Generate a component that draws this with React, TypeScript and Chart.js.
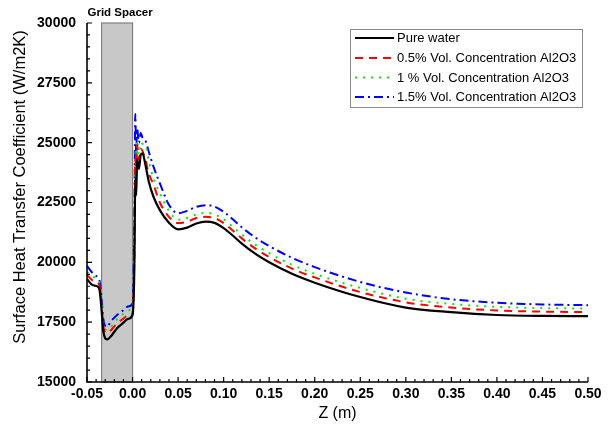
import React, { useEffect, useRef } from "react";
import { Chart, registerables } from "chart.js";

Chart.register(...registerables);

// ---------- data ----------
const seriesNames = [
  "Pure water",
  "0.5% Vol. Concentration Al2O3",
  "1 % Vol. Concentration Al2O3",
  "1.5% Vol. Concentration Al2O3",
];

const zPoints = [
  -0.05, -0.044, -0.038, -0.036, -0.034, -0.032, -0.028, -0.024, -0.017, -0.01, -0.005, 0.0,
  0.002, 0.003, 0.004, 0.005, 0.007, 0.009, 0.011, 0.014, 0.018, 0.023, 0.03, 0.04, 0.05,
  0.06, 0.07, 0.08, 0.09, 0.1, 0.11, 0.12, 0.135, 0.15, 0.175, 0.2, 0.25, 0.3, 0.35, 0.4, 0.45, 0.5,
];

const htcWater = [
  19300, 19050, 18980, 18800, 18000, 17100, 16780, 16900, 17250, 17480, 17640, 17800,
  19800, 23500, 22800, 24300, 23900, 24500, 24550, 24100, 23350, 22740, 22180, 21650, 21380,
  21450, 21620, 21700, 21650, 21430, 21120, 20780, 20350, 20000, 19520, 19150, 18550, 18110, 17920, 17800, 17760, 17750,
];

const htc05 = [
  19470, 19250, 19150, 18950, 18200, 17300, 17040, 17150, 17450, 17650, 17780, 17870,
  20500, 24300, 23400, 24900, 24300, 24750, 24650, 24300, 23700, 23250, 22500, 21900, 21640,
  21700, 21850, 21900, 21850, 21640, 21330, 21000, 20570, 20220, 19740, 19370, 18760, 18330, 18110, 17990, 17940, 17920,
];

const htc10 = [
  19600, 19400, 19300, 19100, 18350, 17450, 17170, 17280, 17620, 17850, 18000, 18115,
  21000, 24600, 23600, 25100, 24500, 25000, 24950, 24900, 24200, 23500, 22890, 22150, 21780,
  21850, 22000, 22070, 22000, 21800, 21490, 21160, 20730, 20380, 19900, 19520, 18930, 18480, 18260, 18140, 18090, 18070,
];

const htc15 = [
  19850, 19560, 19350, 19200, 18500, 17600, 17305, 17520, 17800, 18000, 18150, 18280,
  21800, 26200, 24500, 25600, 25000, 25400, 25200, 25100, 24600, 24000, 23300, 22400, 22050,
  22150, 22320, 22390, 22330, 22110, 21800, 21460, 21030, 20680, 20190, 19800, 19180, 18740, 18460, 18310, 18240, 18210,
];

const gridSpacerStart = -0.034;
const gridSpacerEnd = 0.0;

const xMin = -0.05;
const xMax = 0.5;
const xStep = 0.05;
const yMin = 15000;
const yMax = 30000;
const yStep = 2500;

// ---------- styles ----------
const FONT = '"Liberation Sans", Arial, sans-serif';
const colors = ["#000000", "#ff0000", "#00ee00", "#0000ff"];
const dashes: number[][] = [[], [8, 6], [2, 6], [9, 4, 2, 4]];

const decorPlugin = {
  id: "decor",
  beforeDatasetsDraw(chart: any) {
    const { ctx, chartArea: a, scales } = chart;
    const x = scales.x;
    const x0 = x.getPixelForValue(gridSpacerStart);
    const x1 = x.getPixelForValue(gridSpacerEnd);
    ctx.save();
    ctx.fillStyle = "#c8c8c8";
    ctx.fillRect(x0, a.top, x1 - x0, a.bottom - a.top);
    ctx.strokeStyle = "#808080";
    ctx.lineWidth = 1.2;
    ctx.strokeRect(x0, a.top, x1 - x0, a.bottom - a.top);
    ctx.restore();
  },
  afterDraw(chart: any) {
    const { ctx, chartArea: a, scales } = chart;
    const x = scales.x;
    const y = scales.y;
    ctx.save();
    // axis lines
    ctx.strokeStyle = "#000";
    ctx.lineWidth = 1.6;
    ctx.beginPath();
    ctx.moveTo(a.left, a.top);
    ctx.lineTo(a.left, a.bottom);
    ctx.lineTo(a.right, a.bottom);
    ctx.stroke();
    // y ticks (inward)
    ctx.lineWidth = 1.2;
    ctx.beginPath();
    for (let v = yMin; v <= yMax; v += 500) {
      const p = y.getPixelForValue(v);
      const len = v % yStep === 0 ? 5 : 3;
      ctx.moveTo(a.left, p);
      ctx.lineTo(a.left + len, p);
    }
    // x ticks (inward)
    for (let i = 0; i <= 55; i++) {
      const v = xMin + i * 0.01;
      const p = x.getPixelForValue(v);
      const len = i % 5 === 0 ? 5 : 3;
      ctx.moveTo(p, a.bottom);
      ctx.lineTo(p, a.bottom - len);
    }
    ctx.stroke();

    // grid spacer label
    const xs0 = x.getPixelForValue(gridSpacerStart);
    const xs1 = x.getPixelForValue(gridSpacerEnd);
    ctx.fillStyle = "#000";
    ctx.font = `bold 11.5px ${FONT}`;
    ctx.textAlign = "center";
    ctx.textBaseline = "middle";
    ctx.fillText("Grid Spacer", (xs0 + xs1) / 2 + 3, 13);

    // axis titles
    ctx.font = `16px ${FONT}`;
    ctx.fillText("Z (m)", (a.left + a.right) / 2, 414);
    ctx.save();
    ctx.translate(20, 187);
    ctx.rotate(-Math.PI / 2);
    ctx.font = `16.5px ${FONT}`;
    ctx.fillText("Surface Heat Transfer Coefficient (W/m2K)", 0, 0);
    ctx.restore();

    // legend
    const lx = 350.5, ly = 29.5, lw = 232, lh = 78;
    ctx.fillStyle = "#fff";
    ctx.fillRect(lx, ly, lw, lh);
    ctx.strokeStyle = "#8a8a8a";
    ctx.lineWidth = 1;
    ctx.strokeRect(lx, ly, lw, lh);
    const rows = [38, 58, 77.5, 97];
    seriesNames.forEach((name, i) => {
      const ry = rows[i];
      ctx.strokeStyle = colors[i];
      ctx.lineWidth = 2;
      ctx.setLineDash(dashes[i]);
      ctx.beginPath();
      ctx.moveTo(355, ry);
      ctx.lineTo(394, ry);
      ctx.stroke();
      ctx.setLineDash([]);
      ctx.fillStyle = "#000";
      ctx.font = `13px ${FONT}`;
      ctx.textAlign = "left";
      ctx.textBaseline = "middle";
      ctx.fillText(name, 397, ry + 0.5);
    });
    ctx.restore();
  },
};

export default function App() {
  const ref = useRef<HTMLCanvasElement | null>(null);

  useEffect(() => {
    if (!ref.current) return;
    const allY = [htcWater, htc05, htc10, htc15];
    const chart = new Chart(ref.current, {
      type: "line",
      data: {
        datasets: seriesNames.map((name, i) => ({
          label: name,
          data: zPoints.map((z, k) => ({ x: z, y: allY[i][k] })),
          borderColor: colors[i],
          backgroundColor: colors[i],
          borderWidth: i === 0 ? 2.2 : 2,
          borderDash: dashes[i],
          pointRadius: 0,
          fill: false,
          cubicInterpolationMode: "monotone" as const,
        })),
      },
      options: {
        animation: false,
        responsive: false,
        devicePixelRatio: 1,
        layout: { padding: { left: 0, top: 23, right: 23, bottom: 0 } },
        plugins: { legend: { display: false }, tooltip: { enabled: false } },
        scales: {
          x: {
            type: "linear",
            min: xMin,
            max: xMax,
            grid: { display: false, drawTicks: false },
            border: { display: false },
            afterFit: (s: any) => { s.height = 48; },
            ticks: {
              stepSize: xStep,
              autoSkip: false,
              maxRotation: 0,
              padding: 4,
              color: "#000",
              font: { family: FONT, size: 14, weight: "bold" },
              callback: (v: any) => Number(v).toFixed(2),
            },
          },
          y: {
            type: "linear",
            min: yMin,
            max: yMax,
            grid: { display: false, drawTicks: false },
            border: { display: false },
            afterFit: (s: any) => { s.width = 87; },
            ticks: {
              stepSize: yStep,
              padding: 11,
              color: "#000",
              font: { family: FONT, size: 14, weight: "bold" },
              callback: (v: any) => String(v),
            },
          },
        },
      },
      plugins: [decorPlugin],
    });
    return () => chart.destroy();
  }, []);

  return (
    <div style={{ position: "fixed", left: 0, top: 0, width: 611, height: 430, background: "#fff" }}>
      <canvas ref={ref} width={611} height={430} style={{ width: 611, height: 430 }} />
    </div>
  );
}
